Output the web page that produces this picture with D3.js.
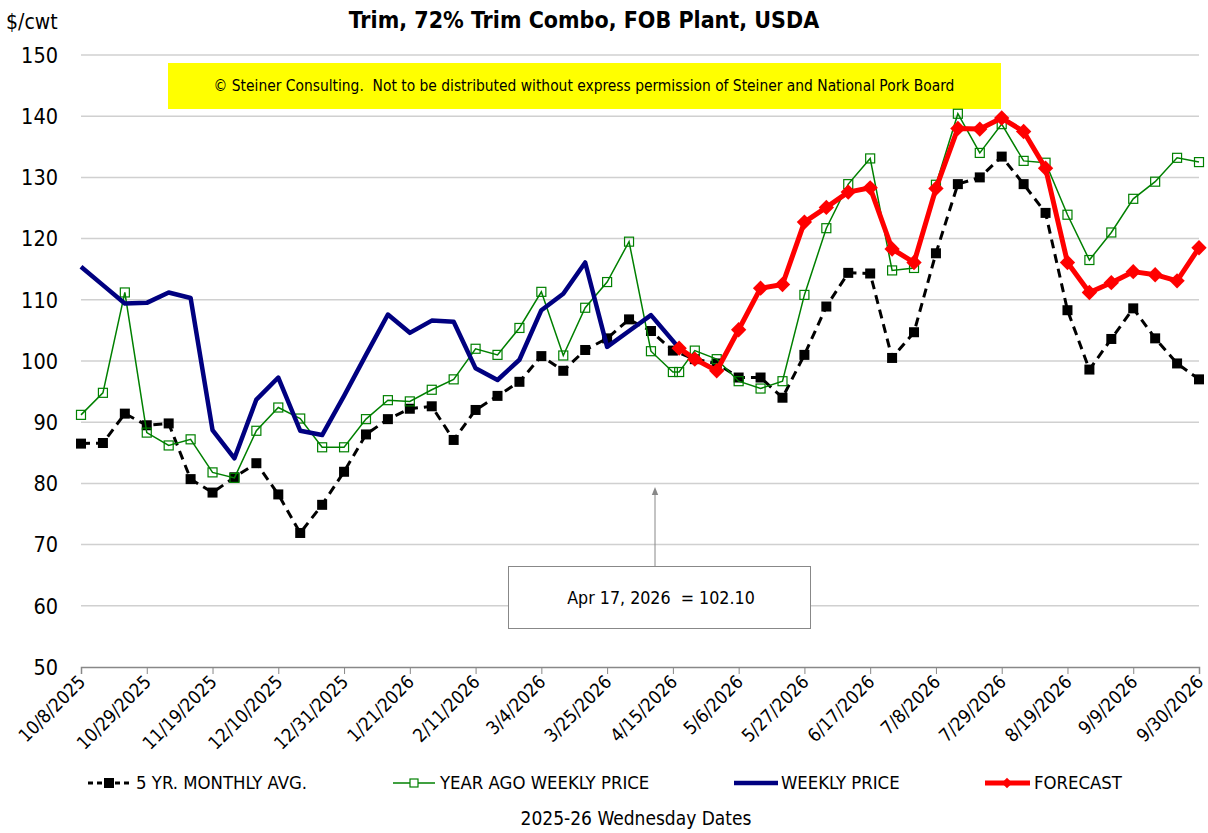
<!DOCTYPE html>
<html><head><meta charset="utf-8">
<script src="https://cdn.jsdelivr.net/npm/d3@7/dist/d3.min.js"></script>
<style>body{margin:0;background:#fff}svg{display:block}text{white-space:pre}</style>
</head><body><svg id="c" width="1208" height="833"></svg>
<script>
// ---- data ----
const weeks = ["10/8/2025","10/15/2025","10/22/2025","10/29/2025","11/5/2025","11/12/2025","11/19/2025","11/26/2025","12/3/2025","12/10/2025","12/17/2025","12/24/2025","12/31/2025","1/7/2026","1/14/2026","1/21/2026","1/28/2026","2/4/2026","2/11/2026","2/18/2026","2/25/2026","3/4/2026","3/11/2026","3/18/2026","3/25/2026","4/1/2026","4/8/2026","4/15/2026","4/22/2026","4/29/2026","5/6/2026","5/13/2026","5/20/2026","5/27/2026","6/3/2026","6/10/2026","6/17/2026","6/24/2026","7/1/2026","7/8/2026","7/15/2026","7/22/2026","7/29/2026","8/5/2026","8/12/2026","8/19/2026","8/26/2026","9/2/2026","9/9/2026","9/16/2026","9/23/2026","9/30/2026"];
const tickLabels = ["10/8/2025","10/29/2025","11/19/2025","12/10/2025","12/31/2025","1/21/2026","2/11/2026","3/4/2026","3/25/2026","4/15/2026","5/6/2026","5/27/2026","6/17/2026","7/8/2026","7/29/2026","8/19/2026","9/9/2026","9/30/2026"];
const currentDate = "4/17/2026";
const currentValue = 102.10;
const yTicks = [50,60,70,80,90,100,110,120,130,140,150];

const fiveYrAvg = [86.5,86.6,91.4,89.5,89.8,80.7,78.5,81.0,83.3,78.2,71.9,76.5,81.9,88.0,90.5,92.2,92.6,87.1,92.0,94.3,96.6,100.8,98.4,101.8,103.7,106.8,104.9,101.7,100.3,99.6,97.3,97.3,94.0,101.0,108.9,114.4,114.3,100.5,104.7,117.6,128.9,130.0,133.4,128.9,124.2,108.3,98.6,103.6,108.6,103.7,99.6,97.0];
const yearAgoDates = weeks.slice(0,28).concat([currentDate], weeks.slice(28));
const yearAgo = [91.2,94.8,111.2,88.3,86.2,87.2,81.8,80.9,88.6,92.4,90.6,85.9,85.9,90.5,93.6,93.4,95.3,97.0,102.0,101.0,105.4,111.3,100.9,108.7,112.9,119.5,101.6,98.2,98.2,101.7,100.3,96.7,95.5,96.7,110.8,121.7,128.9,133.1,114.8,115.2,128.8,140.4,134.0,138.7,132.7,132.4,123.9,116.5,121.0,126.5,129.3,133.2,132.5];
const weeklyDates = weeks.slice(0,27).concat([currentDate]);
const weekly = [115.4,112.4,109.4,109.5,111.2,110.3,88.7,84.1,93.7,97.3,88.6,87.9,94.3,101.0,107.6,104.6,106.6,106.4,98.8,96.9,100.2,108.3,111.0,116.1,102.3,104.9,107.5,currentValue];
const forecastDates = [currentDate].concat(weeks.slice(28));
const forecast = [currentValue,100.3,98.4,105.1,111.9,112.5,122.7,125.1,127.6,128.3,118.3,116.1,128.2,138.0,137.9,139.7,137.5,131.5,116.1,111.2,112.8,114.6,114.1,113.1,118.5];

// ---- chart ----
const parse = d3.timeParse("%m/%d/%Y");
const svg = d3.select("#c");
const L=81, R=1199, T=55, B=667;
const x = d3.scaleTime().domain([parse(weeks[0]), parse(weeks[weeks.length-1])]).range([L,R]);
const y = d3.scaleLinear().domain([50,150]).range([B,T]);
const FONT = "'DejaVu Sans Condensed','DejaVu Sans',sans-serif";

// grid
svg.append("g").selectAll("line").data(yTicks.filter(v=>v>50)).join("line")
  .attr("x1",L).attr("x2",R).attr("y1",d=>y(d)).attr("y2",d=>y(d))
  .attr("stroke","#d0d0d0").attr("stroke-width",1.5);

// y labels
svg.append("g").selectAll("text").data(yTicks).join("text")
  .attr("x",58).attr("y",d=>y(d)).attr("dy","0.36em").attr("text-anchor","end")
  .attr("font-family",FONT).attr("font-size",21.5).attr("fill","#000").text(d=>d);

// x axis
const xAxis = d3.axisBottom(x).tickValues(tickLabels.map(parse)).tickSize(7).tickFormat((d,i)=>tickLabels[i]);
const gx = svg.append("g").attr("transform",`translate(0,${B})`).call(xAxis);
gx.select(".domain").attr("stroke","#888").attr("stroke-width",1.5);
gx.selectAll(".tick line").attr("stroke","#888");
gx.selectAll(".tick text").attr("font-family",FONT).attr("font-size",18.5).attr("fill","#000")
  .attr("text-anchor","end").attr("dy",0).attr("y",0)
  .attr("transform","translate(5,16) rotate(-45)");

// yellow notice
svg.append("rect").attr("x",168).attr("y",63).attr("width",833).attr("height",46).attr("fill","#ffff00");
svg.append("text").attr("x",584).attr("y",86).attr("dy","0.35em").attr("text-anchor","middle")
  .attr("font-family",FONT).attr("font-size",15.4).attr("fill","#000")
  .text("© Steiner Consulting.  Not to be distributed without express permission of Steiner and National Pork Board");

// title etc
svg.append("text").attr("x",584).attr("y",20).attr("dy","0.35em").attr("text-anchor","middle")
  .attr("font-family",FONT).attr("font-weight","bold").attr("font-size",23).text("Trim, 72% Trim Combo, FOB Plant, USDA");
svg.append("text").attr("x",6).attr("y",22).attr("dy","0.35em")
  .attr("font-family",FONT).attr("font-size",21).text("$/cwt");
svg.append("text").attr("x",636).attr("y",818).attr("dy","0.35em").attr("text-anchor","middle")
  .attr("font-family",FONT).attr("font-size",19).text("2025-26 Wednesday Dates");

// annotation
svg.append("defs").append("marker").attr("id","ah").attr("viewBox","0 0 10 10").attr("refX",5).attr("refY",5)
  .attr("markerWidth",8).attr("markerHeight",8).attr("orient","auto")
  .append("path").attr("d","M0,1 L10,5 L0,9 Z").attr("fill","#888");
svg.append("line").attr("x1",655).attr("x2",655).attr("y1",566).attr("y2",491)
  .attr("stroke","#888").attr("stroke-width",1).attr("marker-end","url(#ah)");
svg.append("rect").attr("x",508.5).attr("y",566.5).attr("width",302).attr("height",62)
  .attr("fill","#fff").attr("stroke","#888").attr("stroke-width",1);
svg.append("text").attr("x",661).attr("y",598).attr("dy","0.35em").attr("text-anchor","middle")
  .attr("font-family",FONT).attr("font-size",17.7)
  .text(`Apr 17, 2026  = ${currentValue.toFixed(2)}`);

const line = d3.line().x(d=>x(d[0])).y(d=>y(d[1]));
const zip = (ds,vs)=>ds.map((d,i)=>[parse(d),vs[i]]);

// 5 yr avg
const s1 = zip(weeks,fiveYrAvg);
svg.append("path").datum(s1).attr("d",line).attr("fill","none").attr("stroke","#000")
  .attr("stroke-width",3).attr("stroke-dasharray","9,6");
svg.append("g").selectAll("rect").data(s1).join("rect")
  .attr("x",d=>x(d[0])-5).attr("y",d=>y(d[1])-5).attr("width",10).attr("height",10).attr("fill","#000");

// year ago
const s2 = zip(yearAgoDates,yearAgo);
svg.append("path").datum(s2).attr("d",line).attr("fill","none").attr("stroke","#008000").attr("stroke-width",1.5);
svg.append("g").selectAll("rect").data(s2).join("rect")
  .attr("x",d=>x(d[0])-4.5).attr("y",d=>y(d[1])-4.5).attr("width",9).attr("height",9)
  .attr("fill","none").attr("stroke","#008000").attr("stroke-width",1.2);

// weekly
const s3 = zip(weeklyDates,weekly);
svg.append("path").datum(s3).attr("d",line).attr("fill","none").attr("stroke","#000080")
  .attr("stroke-width",4.5).attr("stroke-linejoin","round");

// forecast
const s4 = zip(forecastDates,forecast);
svg.append("path").datum(s4).attr("d",line).attr("fill","none").attr("stroke","#ff0000")
  .attr("stroke-width",5).attr("stroke-linejoin","round");
const dia = d3.symbol().type(d3.symbolDiamond2).size(150);
svg.append("g").selectAll("path").data(s4).join("path")
  .attr("transform",d=>`translate(${x(d[0])},${y(d[1])})`).attr("d",dia).attr("fill","#ff0000");

// legend
const ly = 783;
const lg = svg.append("g").attr("font-family",FONT).attr("font-size",18.4);
lg.append("line").attr("x1",88).attr("x2",130).attr("y1",ly).attr("y2",ly).attr("stroke","#000").attr("stroke-width",3).attr("stroke-dasharray","5,4");
lg.append("rect").attr("x",104).attr("y",ly-5).attr("width",10).attr("height",10).attr("fill","#000");
lg.append("text").attr("x",136).attr("y",ly).attr("dy","0.35em").text("5 YR. MONTHLY AVG.");
lg.append("line").attr("x1",393).attr("x2",435).attr("y1",ly).attr("y2",ly).attr("stroke","#008000").attr("stroke-width",1.5);
lg.append("rect").attr("x",410).attr("y",ly-4).attr("width",8).attr("height",8).attr("fill","#fff").attr("stroke","#008000").attr("stroke-width",1.2);
lg.append("text").attr("x",440).attr("y",ly).attr("dy","0.35em").text("YEAR AGO WEEKLY PRICE");
lg.append("line").attr("x1",734).attr("x2",778).attr("y1",ly).attr("y2",ly).attr("stroke","#000080").attr("stroke-width",4.5);
lg.append("text").attr("x",781).attr("y",ly).attr("dy","0.35em").text("WEEKLY PRICE");
lg.append("line").attr("x1",985).attr("x2",1030).attr("y1",ly).attr("y2",ly).attr("stroke","#ff0000").attr("stroke-width",5);
lg.append("path").attr("transform",`translate(1007,${ly})`).attr("d",d3.symbol().type(d3.symbolDiamond2).size(70)).attr("fill","#ff0000");
lg.append("text").attr("x",1034).attr("y",ly).attr("dy","0.35em").text("FORECAST");
</script></body></html>
